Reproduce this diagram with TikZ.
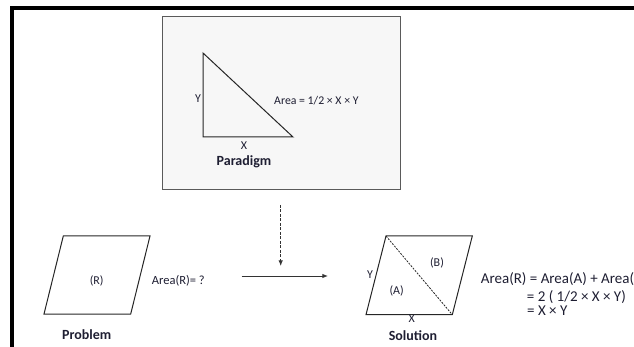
\documentclass[tikz,border=0pt]{standalone}
\usepackage{fontspec}
\setmainfont{Carlito}
\usetikzlibrary{arrows.meta}
\definecolor{inkc}{RGB}{30,30,50}
\definecolor{paperc}{RGB}{247,247,247}
\definecolor{edgec}{RGB}{90,90,90}

\begin{document}
\begin{tikzpicture}[
  x=1pt, y=-1pt,
  lbl/.style={text=inkc, font=\fontsize{#1}{14}\selectfont, inner sep=0pt},
  lbl/.default=12,
  title/.style={text=inkc, font=\fontsize{14}{16}\selectfont\bfseries, inner sep=0pt},
  figline/.style={draw=black!85, line width=1pt},
  arrow/.style={-{Latex[length=2mm,width=1.6mm]}, line width=0.9pt, draw=black!80}
]
\useasboundingbox (0,0) rectangle (634,347);
\clip (0,0) rectangle (634,347);

% outer frame
\draw[line width=3.5pt] (12,8) rectangle (700,400);

% paradigm
\node[draw=edgec, fill=paperc, line width=1.2pt, inner sep=0pt,
      minimum width=238pt, minimum height=173pt] (paradigm) at (281.7,103.4) {};
\draw[figline] (203,53) -- (203,137) -- (293,137) -- cycle;
\node[lbl] (pY) at (198,99) {Y};
\node[lbl] (pX) at (244,146) {X};
\node[title] (ptitle) at (244,162) {Paradigm};
\node[lbl=11.8, anchor=west] (parea) at (274,100.7) {Area = 1/2 × X × Y};

% arrows
\coordinate (dtop) at (280.7,205);
\coordinate (dbot) at (280.7,266);
\draw[arrow, dash pattern=on 3pt off 1.5pt] (dtop) -- (dbot);
\coordinate (hleft) at (241.7,276);
\coordinate (hright) at (328,276);
\draw[arrow] (hleft) -- (hright);

% problem
\draw[figline] (63.3,236) -- (150,236) -- (130.7,314) -- (44,314) -- cycle;
\node[lbl] (rR) at (96.7,281) {(R)};
\node[lbl=12.5, anchor=west] (rarea) at (151.7,281) {Area(R)= ?};
\node[title] (rtitle) at (86.7,335) {Problem};

% solution
\draw[figline] (386,236) -- (472.3,236) -- (452.3,314.7) -- (366,314.7) -- cycle;
\draw[figline, line width=0.8pt, dash pattern=on 2pt off 1.2pt] (386,236) -- (452.3,314.7);
\node[lbl] (sB) at (437,263) {(B)};
\node[lbl] (sA) at (396.7,290.7) {(A)};
\node[lbl] (sY) at (370,275) {Y};
\node[lbl] (sX) at (411.7,319) {X};
\node[title] (stitle) at (413,336) {Solution};
\node[lbl=15, anchor=west] (seq1) at (480.7,279.3) {Area(R) = Area(A) + Area(B)};
\node[lbl=15, anchor=west] (seq2) at (526.7,296.7) {= 2 ( 1/2 × X × Y)};
\node[lbl=15, anchor=west] (seq3) at (527,311) {= X × Y};
\end{tikzpicture}
\end{document}
